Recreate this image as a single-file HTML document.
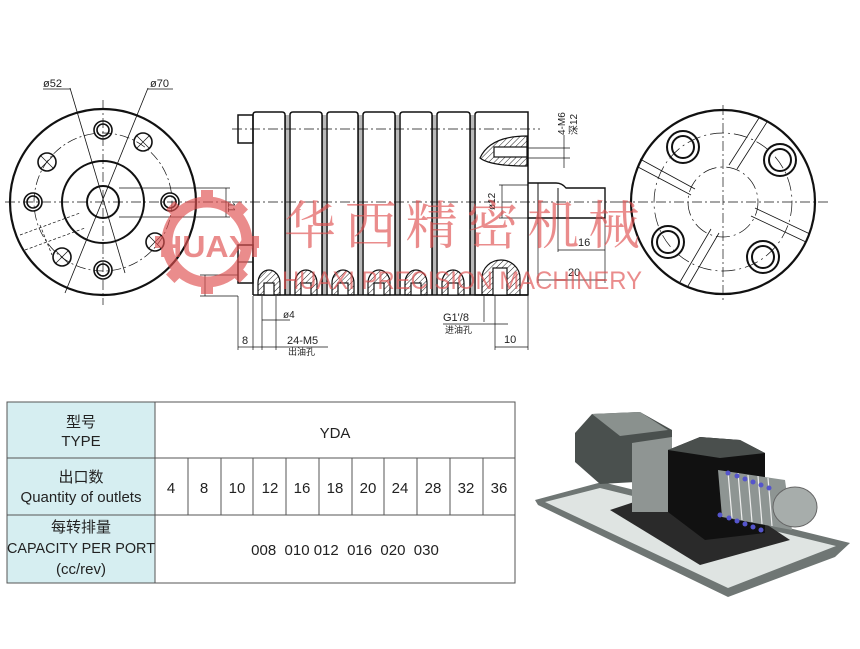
<!DOCTYPE html>
<html><head><meta charset="utf-8"><style>
html,body{margin:0;padding:0;background:#fff;}
body{width:860px;height:649px;position:relative;overflow:hidden;font-family:"Liberation Sans","Noto Sans CJK SC",sans-serif;}
svg{position:absolute;left:0;top:0;}
</style></head><body>
<svg width="860" height="649" viewBox="0 0 860 649" xmlns="http://www.w3.org/2000/svg">
<defs>
<pattern id="h" width="4" height="4" patternUnits="userSpaceOnUse" patternTransform="rotate(45)">
<line x1="0" y1="0" x2="0" y2="4" stroke="#222" stroke-width="1"/></pattern>
</defs>
<g fill="none" stroke="#111" stroke-width="1">
<!-- LEFT VIEW -->
<line x1="5" y1="202" x2="232" y2="202" stroke-dasharray="10 3 2 3" stroke-width="0.7"/>
<line x1="103" y1="100" x2="103" y2="305" stroke-dasharray="10 3 2 3" stroke-width="0.7"/>
<circle cx="103" cy="202" r="93" stroke-width="2.2"/>
<circle cx="103" cy="202" r="69" stroke-dasharray="10 3 2 3" stroke-width="0.7"/>
<circle cx="103" cy="202" r="41" stroke-width="2"/>
<circle cx="103" cy="202" r="16" stroke-width="2"/>
<line x1="70" y1="88" x2="125" y2="273" stroke-width="0.8"/>
<line x1="148" y1="88" x2="65" y2="293" stroke-width="0.8"/>
<line x1="43" y1="89" x2="70" y2="89" stroke-width="0.8"/>
<line x1="148" y1="89" x2="173" y2="89" stroke-width="0.8"/>
<g stroke-width="1.6">
<circle cx="103" cy="130" r="9"/><circle cx="103" cy="130" r="6"/>
<circle cx="143" cy="142" r="9"/>
<circle cx="47" cy="162" r="9"/>
<circle cx="33" cy="202" r="9"/><circle cx="33" cy="202" r="6"/>
<circle cx="170" cy="202" r="9"/><circle cx="170" cy="202" r="6"/>
<circle cx="155" cy="242" r="9"/>
<circle cx="62" cy="257" r="9"/>
<circle cx="103" cy="270" r="9"/><circle cx="103" cy="270" r="6"/>
</g>
<g stroke-width="0.7">
<line x1="136" y1="135" x2="150" y2="149"/><line x1="150" y1="135" x2="136" y2="149"/>
<line x1="40" y1="155" x2="54" y2="169"/><line x1="54" y1="155" x2="40" y2="169"/>
<line x1="148" y1="235" x2="162" y2="249"/><line x1="162" y1="235" x2="148" y2="249"/>
<line x1="55" y1="250" x2="69" y2="264"/><line x1="69" y1="250" x2="55" y2="264"/>
</g>
<g stroke-dasharray="3 2" stroke-width="0.7">
<line x1="20" y1="235" x2="80" y2="213"/><line x1="25" y1="250" x2="85" y2="228"/>
<line x1="40" y1="225" x2="52" y2="255"/>
</g>
<line x1="119" y1="188" x2="230" y2="188" stroke-width="0.7"/>
<line x1="119" y1="217" x2="230" y2="217" stroke-width="0.7"/>
<line x1="226" y1="188" x2="226" y2="217" stroke-width="0.7"/>
<line x1="200" y1="275" x2="238" y2="275" stroke-width="0.7"/>
<line x1="200" y1="296" x2="238" y2="296" stroke-width="0.7"/>
<line x1="205" y1="275" x2="205" y2="296" stroke-width="0.7"/>

<!-- MIDDLE VIEW -->
<line x1="232" y1="129" x2="540" y2="129" stroke-dasharray="10 3 2 3" stroke-width="0.7"/>
<line x1="232" y1="202" x2="620" y2="202" stroke-dasharray="10 3 2 3" stroke-width="0.7"/>
<rect x="238" y="115" width="15" height="28" stroke-width="1.5"/>
<rect x="238" y="245" width="15" height="38" stroke-width="1.5"/>
<line x1="238" y1="262" x2="253" y2="262"/>
<g stroke-width="1.5">
<path d="M253 295 V115 q0 -3 3 -3 H282 q3 0 3 3 V295"/>
<path d="M290 295 V115 q0 -3 3 -3 H319 q3 0 3 3 V295"/>
<path d="M327 295 V115 q0 -3 3 -3 H355 q3 0 3 3 V295"/>
<path d="M363 295 V115 q0 -3 3 -3 H392 q3 0 3 3 V295"/>
<path d="M400 295 V115 q0 -3 3 -3 H429 q3 0 3 3 V295"/>
<path d="M437 295 V115 q0 -3 3 -3 H467 q3 0 3 3 V295"/>
<path d="M475 295 V115 q0 -3 3 -3 H528 V295 Z"/>
<line x1="253" y1="295" x2="528" y2="295"/>
</g>
<g stroke-width="0.6">
<line x1="286" y1="115" x2="286" y2="295"/><line x1="288" y1="115" x2="288" y2="295"/>
<line x1="323" y1="115" x2="323" y2="295"/><line x1="325" y1="115" x2="325" y2="295"/>
<line x1="359" y1="115" x2="359" y2="295"/><line x1="361" y1="115" x2="361" y2="295"/>
<line x1="396" y1="115" x2="396" y2="295"/><line x1="398" y1="115" x2="398" y2="295"/>
<line x1="433" y1="115" x2="433" y2="295"/><line x1="435" y1="115" x2="435" y2="295"/>
<line x1="471" y1="115" x2="471" y2="295"/><line x1="473" y1="115" x2="473" y2="295"/>
</g>
<g stroke-width="1.2">
<path d="M258 295 V283 a11 13 0 0 1 22 0 V295 Z" fill="url(#h)"/><rect x="264" y="283" width="10" height="12" fill="#fff"/>
<path d="M295 295 V283 a11 13 0 0 1 22 0 V295 Z" fill="url(#h)"/><rect x="301" y="283" width="10" height="12" fill="#fff"/>
<path d="M332 295 V283 a11 13 0 0 1 22 0 V295 Z" fill="url(#h)"/><rect x="338" y="283" width="10" height="12" fill="#fff"/>
<path d="M368 295 V283 a11 13 0 0 1 22 0 V295 Z" fill="url(#h)"/><rect x="374" y="283" width="10" height="12" fill="#fff"/>
<path d="M405 295 V283 a11 13 0 0 1 22 0 V295 Z" fill="url(#h)"/><rect x="411" y="283" width="10" height="12" fill="#fff"/>
<path d="M442 295 V283 a11 13 0 0 1 22 0 V295 Z" fill="url(#h)"/><rect x="448" y="283" width="10" height="12" fill="#fff"/>
<path d="M482 295 V278 a19 18 0 0 1 38 0 V295 Z" fill="url(#h)"/><rect x="493" y="268" width="14" height="27" fill="#fff"/>
<path d="M480 158 q10 -22 47 -22 V166 q-37 0 -47 -8 Z" fill="url(#h)"/>
<rect x="494" y="147" width="33" height="10" fill="#fff"/>
</g>
<path d="M528 183 H556 q6 0 10 5 H605 V218 H528" stroke-width="1.4"/>
<line x1="538" y1="183" x2="538" y2="218"/>
<line x1="558" y1="188" x2="558" y2="218"/>
<line x1="499" y1="185" x2="528" y2="185" stroke-width="0.7"/>
<line x1="499" y1="218" x2="528" y2="218" stroke-width="0.7"/>
<line x1="502" y1="185" x2="502" y2="218" stroke-width="0.7"/>
<line x1="558" y1="218" x2="558" y2="252" stroke-width="0.7"/>
<line x1="605" y1="218" x2="605" y2="283" stroke-width="0.7"/>
<line x1="558" y1="250" x2="605" y2="250" stroke-width="0.7"/>
<line x1="538" y1="218" x2="538" y2="283" stroke-width="0.7"/>
<line x1="538" y1="280" x2="605" y2="280" stroke-width="0.7"/>
<line x1="528" y1="148" x2="570" y2="148" stroke-width="0.7"/>
<line x1="528" y1="158" x2="570" y2="158" stroke-width="0.7"/>
<line x1="564" y1="135" x2="564" y2="168" stroke-width="0.7"/>
<g stroke-width="0.7">
<line x1="238" y1="296" x2="238" y2="350"/><line x1="253" y1="296" x2="253" y2="350"/>
<line x1="238" y1="347" x2="253" y2="347"/>
<line x1="262" y1="296" x2="262" y2="350"/><line x1="276" y1="296" x2="276" y2="350"/>
<line x1="262" y1="320" x2="290" y2="320"/>
<line x1="253" y1="347" x2="328" y2="347"/>
<line x1="484" y1="296" x2="484" y2="322"/><line x1="495" y1="296" x2="495" y2="350"/>
<line x1="443" y1="324" x2="508" y2="324"/>
<line x1="528" y1="296" x2="528" y2="350"/>
<line x1="495" y1="347" x2="528" y2="347"/>
</g>

<!-- RIGHT VIEW -->
<line x1="620" y1="202" x2="830" y2="202" stroke-dasharray="10 3 2 3" stroke-width="0.7"/>
<line x1="723" y1="105" x2="723" y2="300" stroke-dasharray="10 3 2 3" stroke-width="0.7"/>
<circle cx="723" cy="202" r="92" stroke-width="2.2"/>
<circle cx="723" cy="202" r="69" stroke-dasharray="14 4 2 4" stroke-width="0.7"/>
<circle cx="723" cy="202" r="35" stroke-dasharray="14 4 2 4" stroke-width="0.7"/>
<g stroke-width="2">
<circle cx="683" cy="147" r="16"/><circle cx="683" cy="147" r="11"/>
<circle cx="780" cy="160" r="16"/><circle cx="780" cy="160" r="11"/>
<circle cx="668" cy="242" r="16"/><circle cx="668" cy="242" r="11"/>
<circle cx="763" cy="257" r="16"/><circle cx="763" cy="257" r="11"/>
</g>
<g stroke-width="0.8">
<path d="M640 159 L695 189 M638 167 L691 195"/>
<path d="M767 122 L737 169 M759 118 L729 165"/>
<path d="M810 234 L755 208 M806 242 L751 216"/>
<path d="M680 282 L711 229 M688 286 L719 233"/>
</g>
</g>

<g font-family="'Liberation Sans','Noto Sans CJK SC',sans-serif" fill="#222">
<text x="43" y="87" font-size="11">ø52</text>
<text x="150" y="87" font-size="11">ø70</text>
<text x="233" y="207" font-size="10" transform="rotate(90 233 202)">11</text>
<text x="283" y="318" font-size="10">ø4</text>
<text x="242" y="344" font-size="11">8</text>
<text x="287" y="344" font-size="11">24-M5</text>
<text x="288" y="355" font-size="9">出油孔</text>
<text x="443" y="321" font-size="11">G1'/8</text>
<text x="445" y="333" font-size="9">进油孔</text>
<text x="504" y="343" font-size="11">10</text>
<text x="578" y="246" font-size="11">16</text>
<text x="568" y="276" font-size="11">20</text>
<text x="0" y="0" font-size="10" transform="translate(565 135) rotate(-90)">4-M6</text>
<text x="0" y="0" font-size="10" transform="translate(577 135) rotate(-90)">深12</text>
<text x="0" y="0" font-size="10" transform="translate(495 210) rotate(-90)">ø12</text>
</g>

<!-- watermark -->
<g fill="#e05050" opacity="0.65">
<g transform="translate(207 242)">
<circle r="40" fill="none" stroke="#e05050" stroke-width="11"/>
<rect x="-6" y="-52" width="12" height="12"/>
<rect x="-6" y="40" width="12" height="12"/>
<rect x="-52" y="-6" width="12" height="12"/>
<rect x="40" y="-6" width="12" height="12"/>
<rect x="-6" y="-52" width="12" height="12" transform="rotate(45)"/>
<rect x="-6" y="40" width="12" height="12" transform="rotate(45)"/>
<rect x="-52" y="-6" width="12" height="12" transform="rotate(45)"/>
<rect x="40" y="-6" width="12" height="12" transform="rotate(45)"/>
</g>
<text x="159" y="257" font-size="31" font-weight="bold" font-family="'Liberation Sans',sans-serif" textLength="100" lengthAdjust="spacingAndGlyphs">HUAXI</text>
<text x="284" y="244" font-size="52" font-family="'Noto Serif CJK SC','WenQuanYi Zen Hei',serif" textLength="356" lengthAdjust="spacing">华西精密机械</text>
<text x="282" y="289" font-size="25" font-family="'Liberation Sans',sans-serif" textLength="360" lengthAdjust="spacingAndGlyphs">HUAXI PRECISION MACHINERY</text>
</g>

<!-- TABLE -->
<g stroke="#555" stroke-width="1">
<rect x="7" y="402" width="148" height="181" fill="#d6eef1"/>
<rect x="155" y="402" width="360" height="181" fill="#fff"/>
<line x1="7" y1="458" x2="515" y2="458"/>
<line x1="7" y1="515" x2="515" y2="515"/>
<line x1="188" y1="458" x2="188" y2="515"/><line x1="221" y1="458" x2="221" y2="515"/>
<line x1="253" y1="458" x2="253" y2="515"/><line x1="286" y1="458" x2="286" y2="515"/>
<line x1="319" y1="458" x2="319" y2="515"/><line x1="352" y1="458" x2="352" y2="515"/>
<line x1="384" y1="458" x2="384" y2="515"/><line x1="417" y1="458" x2="417" y2="515"/>
<line x1="450" y1="458" x2="450" y2="515"/><line x1="483" y1="458" x2="483" y2="515"/>
</g>
<g font-family="'Liberation Sans','Noto Sans CJK SC',sans-serif" font-size="15" fill="#222" text-anchor="middle">
<text x="81" y="427">型号</text>
<text x="81" y="446">TYPE</text>
<text x="335" y="438">YDA</text>
<text x="81" y="482">出口数</text>
<text x="81" y="502">Quantity of outlets</text>
<text x="81" y="532">每转排量</text>
<text x="81" y="553" textLength="148" lengthAdjust="spacingAndGlyphs">CAPACITY  PER PORT</text>
<text x="81" y="574">(cc/rev)</text>
<text x="171" y="493">4</text><text x="204" y="493">8</text><text x="237" y="493">10</text>
<text x="270" y="493">12</text><text x="302" y="493">16</text><text x="335" y="493">18</text>
<text x="368" y="493">20</text><text x="400" y="493">24</text><text x="433" y="493">28</text>
<text x="466" y="493">32</text><text x="499" y="493">36</text>
<text x="345" y="555" xml:space="preserve">008  010 012  016  020  030</text>
</g>

<!-- PHOTO -->
<g>
<polygon points="535,500 602,482 850,543 835,557 728,597 538,505" fill="#6f7674"/>
<polygon points="545,502 600,488 836,546 728,588" fill="#dfe4e2"/>
<polygon points="610,510 700,480 790,540 700,565" fill="#2a2a2a"/>
<polygon points="575,433 592,414 640,412 672,430 672,480 600,484 575,462" fill="#4a504e"/>
<polygon points="592,414 640,412 668,430 620,436" fill="#8a918e"/>
<polygon points="632,443 672,437 672,512 632,512" fill="#8f9593"/>
<polygon points="668,450 700,437 740,440 765,453 765,533 705,540 668,512" fill="#111"/>
<polygon points="668,450 700,437 740,440 765,453 720,458" fill="#4a4f4d"/>
<polygon points="718,470 785,480 792,530 722,517" fill="#8e9593"/>
<g stroke="#eee" stroke-width="1.2" fill="none">
<line x1="728" y1="472" x2="732" y2="518"/><line x1="738" y1="473" x2="742" y2="520"/>
<line x1="748" y1="475" x2="752" y2="522"/><line x1="758" y1="476" x2="762" y2="524"/>
<line x1="768" y1="478" x2="772" y2="526"/>
</g>
<ellipse cx="795" cy="507" rx="22" ry="20" fill="#a7adab" stroke="#666"/>
<g fill="#5555cc">
<circle cx="728" cy="473" r="2.5"/><circle cx="737" cy="476" r="2.5"/><circle cx="745" cy="479" r="2.5"/>
<circle cx="753" cy="482" r="2.5"/><circle cx="761" cy="485" r="2.5"/><circle cx="769" cy="488" r="2.5"/>
<circle cx="720" cy="515" r="2.5"/><circle cx="729" cy="518" r="2.5"/><circle cx="737" cy="521" r="2.5"/>
<circle cx="745" cy="524" r="2.5"/><circle cx="753" cy="527" r="2.5"/><circle cx="761" cy="530" r="2.5"/>
</g>
</g>
</svg>
</body></html>
